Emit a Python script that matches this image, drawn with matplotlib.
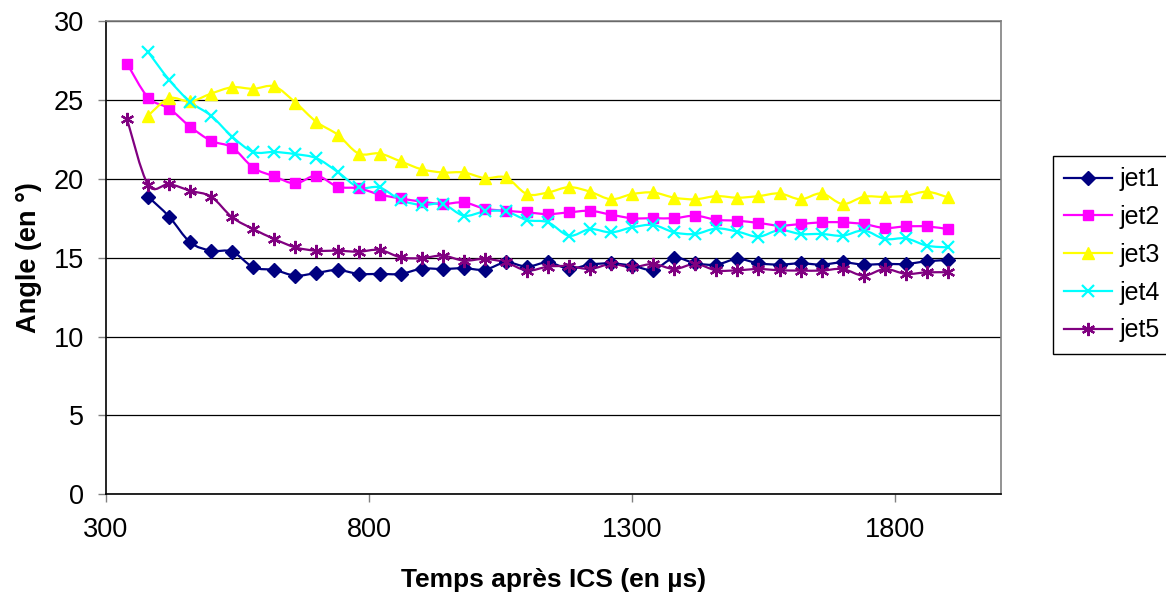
import matplotlib
matplotlib.use("Agg")
import matplotlib.pyplot as plt
from matplotlib.path import Path
from matplotlib.patches import PathPatch
from matplotlib.lines import Line2D
import numpy as np

plt.rcParams['font.family'] = ['Liberation Sans', 'DejaVu Sans']

# time (µs) – one sample every 40 µs
temps = [340 + 40 * i for i in range(40)]

jet1 = [None, 18.86, 17.6, 15.97, 15.44, 15.38, 14.39, 14.22, 13.86, 14.03,
        14.22, 13.97, 13.97, 13.97, 14.3, 14.28, 14.33, 14.24, 14.7, 14.43,
        14.7, 14.3, 14.56, 14.64, 14.49, 14.24, 14.98, 14.64, 14.56, 14.92,
        14.64, 14.56, 14.64, 14.56, 14.7, 14.56, 14.6, 14.6, 14.77, 14.85]
jet2 = [27.3, 25.15, 24.45, 23.3, 22.4, 21.98, 20.7, 20.15, 19.7, 20.2,
        19.5, 19.4, 19.0, 18.75, 18.55, 18.4, 18.5, 18.1, 17.97, 17.87,
        17.76, 17.87, 17.97, 17.72, 17.5, 17.5, 17.5, 17.66, 17.4, 17.34,
        17.2, 17.03, 17.13, 17.24, 17.24, 17.13, 16.88, 16.98, 16.98, 16.81]
jet3 = [None, 24.0, 25.1, 24.9, 25.4, 25.8, 25.7, 25.85, 24.83, 23.6,
        22.8, 21.6, 21.6, 21.1, 20.6, 20.4, 20.4, 20.04, 20.08, 19.03,
        19.13, 19.47, 19.18, 18.7, 19.03, 19.13, 18.8, 18.7, 18.9, 18.8,
        18.9, 19.07, 18.7, 19.07, 18.4, 18.86, 18.85, 18.92, 19.18, 18.82]
jet4 = [None, 28.04, 26.27, 24.87, 23.99, 22.66, 21.7, 21.7, 21.56, 21.3,
        20.44, 19.45, 19.45, 18.65, 18.34, 18.4, 17.66, 17.93, 17.93, 17.38,
        17.24, 16.39, 16.81, 16.6, 16.92, 17.07, 16.6, 16.5, 16.85, 16.65,
        16.33, 16.75, 16.5, 16.5, 16.39, 16.72, 16.18, 16.22, 15.76, 15.65]
jet5 = [23.78, 19.62, 19.66, 19.24, 18.86, 17.55, 16.81, 16.18, 15.65, 15.44,
        15.44, 15.38, 15.49, 15.02, 14.97, 15.13, 14.81, 14.92, 14.7, 14.18,
        14.43, 14.46, 14.28, 14.6, 14.39, 14.6, 14.28, 14.6, 14.19, 14.2,
        14.28, 14.2, 14.18, 14.18, 14.28, 13.86, 14.28, 13.97, 14.07, 14.07]

series_names = ['jet1', 'jet2', 'jet3', 'jet4', 'jet5']
series_values = [jet1, jet2, jet3, jet4, jet5]
colors = ['#000080', '#FF00FF', '#FFFF00', '#00FFFF', '#800080']
markers = ['D', 's', '^', 'x', (6, 2, 0)]
msizes = [7, 7, 8.5, 8.5, 9.5]

x_ticks = [300, 800, 1300, 1800]
y_ticks = [0, 5, 10, 15, 20, 25, 30]

fig = plt.figure(figsize=(11.66, 5.96), dpi=100)
ax = fig.add_axes([0.0909, 0.1706, 0.7672, 0.7942])


def smooth_path(xs, ys):
    pts = np.column_stack([xs, ys])
    n = len(pts)
    verts = [pts[0]]
    codes = [Path.MOVETO]
    for i in range(n - 1):
        p0 = pts[i - 1] if i > 0 else pts[i]
        p1 = pts[i]
        p2 = pts[i + 1]
        p3 = pts[i + 2] if i + 2 < n else pts[i + 1]
        c1 = p1 + (p2 - p0) / 6.0
        c2 = p2 - (p3 - p1) / 6.0
        verts += [c1, c2, p2]
        codes += [Path.CURVE4] * 3
    return Path(verts, codes)


handles = []
for name, vals, c, m, ms in zip(series_names, series_values, colors, markers, msizes):
    xs = [t for t, v in zip(temps, vals) if v is not None]
    ys = [v for v in vals if v is not None]
    patch = PathPatch(smooth_path(xs, ys), facecolor='none', edgecolor=c,
                      lw=1.6, zorder=3)
    ax.add_patch(patch)
    mew = 1.6 if m in ('x', (6, 2, 0)) else 1.0
    ax.plot(xs, ys, linestyle='none', marker=m, markersize=ms, color=c,
            markeredgecolor=c, markeredgewidth=mew, zorder=4)
    handles.append(Line2D([], [], color=c, lw=1.6, marker=m, markersize=ms,
                          markeredgecolor=c, markeredgewidth=mew, label=name))

ax.set_xlim(300, 2000)
ax.set_ylim(0, 30)
ax.set_xticks(x_ticks)
ax.set_yticks(y_ticks)
ax.yaxis.grid(True, color='black', linewidth=0.9)
ax.set_axisbelow(True)

for s in ['left', 'bottom']:
    ax.spines[s].set_color('black')
    ax.spines[s].set_linewidth(1.2)
for s in ['top', 'right']:
    ax.spines[s].set_color('#808080')
    ax.spines[s].set_linewidth(1.2)

ax.tick_params(axis='both', direction='out', length=6, width=1, color='#808080',
               labelsize=19.5, pad=10)

ax.set_xlabel('Temps après ICS (en µs)', fontsize=19, fontweight='bold', labelpad=18)
ax.set_ylabel('Angle (en °)', fontsize=19.5, fontweight='bold', labelpad=8)

leg = fig.legend(handles=handles, loc='upper left', bbox_to_anchor=(0.903, 0.738),
                 bbox_transform=fig.transFigure, fontsize=18, frameon=True,
                 fancybox=False, edgecolor='black', framealpha=1,
                 handlelength=1.9, handletextpad=0.3, labelspacing=0.55,
                 borderpad=0.45, borderaxespad=0)
leg.get_frame().set_linewidth(1.0)

fig.savefig('out.png', dpi=100)
